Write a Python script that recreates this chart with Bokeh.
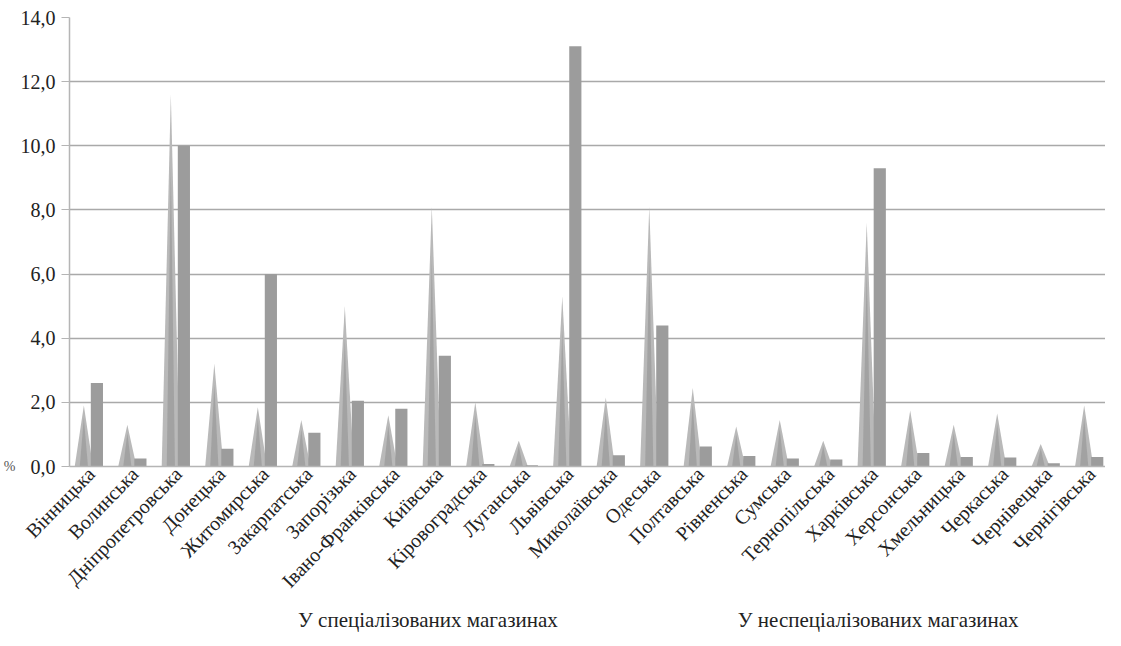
from bokeh.plotting import figure
from bokeh.layouts import column
from bokeh.models import Range1d, FixedTicker, Legend, LegendItem, ColumnDataSource
from bokeh.embed import file_html
from bokeh.resources import INLINE

regions = ["Вінницька", "Волинська", "Дніпропетровська", "Донецька", "Житомирська",
           "Закарпатська", "Запорізька", "Івано-Франківська", "Київська", "Кіровоградська",
           "Луганська", "Львівська", "Миколаївська", "Одеська", "Полтавська", "Рівненська",
           "Сумська", "Тернопільська", "Харківська", "Херсонська", "Хмельницька",
           "Черкаська", "Чернівецька", "Чернігівська"]
specialized = [1.9, 1.3, 11.6, 3.2, 1.85, 1.45, 5.0, 1.6, 8.1, 2.0,
               0.8, 5.3, 2.15, 8.1, 2.45, 1.25,
               1.45, 0.8, 7.6, 1.75, 1.3,
               1.65, 0.7, 1.9]
nonspecialized = [2.6, 0.25, 10.0, 0.55, 6.0, 1.05, 2.05, 1.8, 3.45, 0.08,
                  0.04, 13.1, 0.35, 4.4, 0.62, 0.33,
                  0.25, 0.22, 9.3, 0.42, 0.3,
                  0.28, 0.1, 0.3]
series_names = ["У спеціалізованих магазинах", "У неспеціалізованих магазинах"]
y_ticks = [0, 2, 4, 6, 8, 10, 12, 14]
y_tick_labels = ["0,0", "2,0", "4,0", "6,0", "8,0", "10,0", "12,0", "14,0"]
y_title = "%"

FONT = "Liberation Serif"
CONE_COLOR = "#b9b9b9"
BAR_COLOR = "#9c9c9c"
CONE_OFF = -0.17
CONE_HW = 0.21
BAR_OFF = 0.13
BAR_W = 0.28

idx = list(range(len(regions)))
cone_xs = [[i + CONE_OFF - CONE_HW, i + CONE_OFF, i + CONE_OFF + CONE_HW] for i in idx]
cone_ys = [[0, v, 0] for v in specialized]
core_xs = [[i + CONE_OFF - CONE_HW * 0.45, i + CONE_OFF, i + CONE_OFF + CONE_HW * 0.45] for i in idx]
core_ys = [[0, v * 0.8, 0] for v in specialized]

cone_src = ColumnDataSource(dict(xs=cone_xs, ys=cone_ys))
core_src = ColumnDataSource(dict(xs=core_xs, ys=core_ys))
bar_src = ColumnDataSource(dict(x=[i + BAR_OFF for i in idx], top=nonspecialized))

p = figure(width=1105, height=606, output_backend="svg", toolbar_location=None,
           x_range=Range1d(-0.5, 23.32), y_range=Range1d(0, 14),
           min_border_left=40, min_border_top=17, min_border_right=0, min_border_bottom=140)
p.outline_line_color = None
p.background_fill_color = "white"

p.patches("xs", "ys", source=cone_src, fill_color=CONE_COLOR, line_color=None)
p.patches("xs", "ys", source=core_src, fill_color="#8f8f8f", fill_alpha=0.55, line_color=None)
p.vbar(x="x", top="top", width=BAR_W, source=bar_src, fill_color=BAR_COLOR, line_color=None)

p.xgrid.grid_line_color = None
p.ygrid.grid_line_color = "#a9a9a9"
p.ygrid.grid_line_width = 1.5
p.ygrid.ticker = FixedTicker(ticks=y_ticks)

p.yaxis.ticker = FixedTicker(ticks=y_ticks)
p.yaxis.major_label_overrides = {t: s for t, s in zip(y_ticks, y_tick_labels)}
p.yaxis.major_label_text_font = FONT
p.yaxis.major_label_text_font_size = "20px"
p.yaxis.major_label_text_color = "#222222"
p.yaxis.axis_line_color = "#b5b5b5"
p.yaxis.axis_line_width = 1.5
p.yaxis.major_tick_line_color = "#b5b5b5"
p.yaxis.major_tick_out = 8
p.yaxis.major_tick_in = 0
p.yaxis.minor_tick_line_color = None
p.yaxis.major_label_standoff = 6
p.yaxis.axis_label = y_title
p.yaxis.axis_label_text_font = FONT
p.yaxis.axis_label_text_font_style = "normal"
p.yaxis.axis_label_text_font_size = "14px"
p.yaxis.axis_label_text_color = "#555555"
p.yaxis.axis_label_standoff = 2
p.yaxis.axis_label_orientation = "horizontal"
try:
    p.yaxis.axis_label_align = "start"
except Exception:
    pass

p.xaxis.ticker = FixedTicker(ticks=idx)
p.xaxis.major_label_overrides = {i: r for i, r in zip(idx, regions)}
p.xaxis.major_label_orientation = 0.8
p.xaxis.major_label_text_font = FONT
p.xaxis.major_label_text_font_size = "20px"
p.xaxis.major_label_text_color = "#222222"
p.xaxis.axis_line_color = "#b5b5b5"
p.xaxis.axis_line_width = 1.5
p.xaxis.major_tick_line_color = None
p.xaxis.minor_tick_line_color = None
p.xaxis.major_tick_out = 0
p.xaxis.major_label_standoff = 4

# legend strip below the chart
p2 = figure(width=1105, height=30, output_backend="svg", toolbar_location=None,
            x_axis_type=None, y_axis_type=None, x_range=Range1d(0, 1), y_range=Range1d(0, 1),
            min_border=0)
p2.outline_line_color = None
p2.background_fill_color = "white"
lg_cone = p2.patches("xs", "ys", source=ColumnDataSource(dict(xs=[], ys=[])),
                     fill_color=CONE_COLOR, line_color=None)
lg_bar = p2.vbar(x="x", top="top", width=BAR_W, source=ColumnDataSource(dict(x=[], top=[])),
                 fill_color=BAR_COLOR, line_color=None)
legend = Legend(items=[LegendItem(label=series_names[0], renderers=[lg_cone]),
                       LegendItem(label=series_names[1], renderers=[lg_bar])],
                orientation="horizontal", location=(214, 3), spacing=165,
                label_text_font=FONT, label_text_font_size="21px", label_text_color="#222222",
                label_height=16, glyph_width=9, glyph_height=9, label_standoff=6,
                border_line_color=None, background_fill_alpha=0, padding=0, margin=0)
p2.add_layout(legend, "center")

layout = column(p, p2, spacing=0)
open("out.html", "w").write(file_html(layout, INLINE))
